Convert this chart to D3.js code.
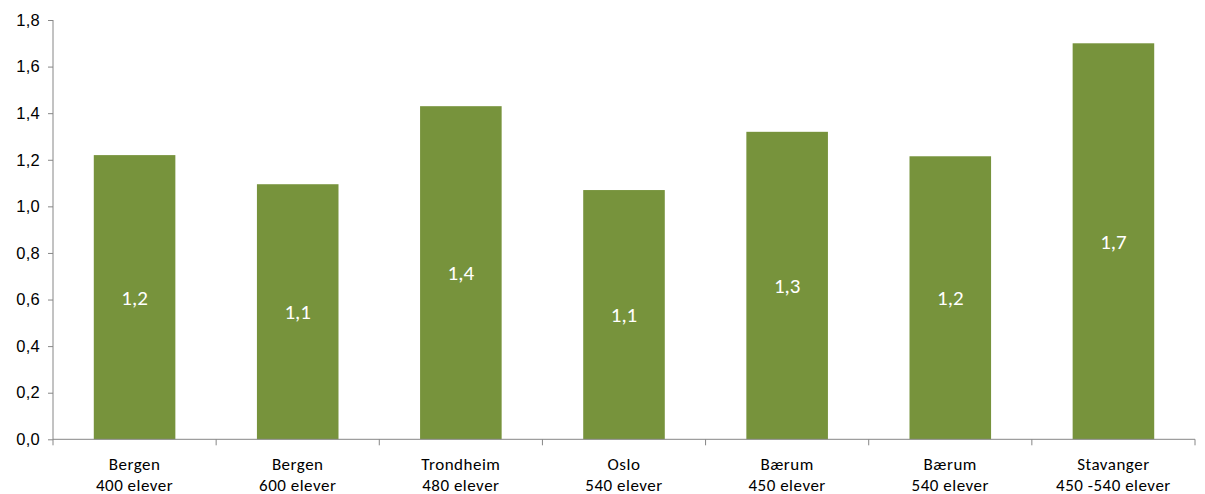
<!DOCTYPE html>
<html>
<head>
<meta charset="utf-8">
<script src="https://cdn.jsdelivr.net/npm/d3@7"></script>
<style>
  html, body { margin: 0; padding: 0; background: #fff; }
  svg { display: block; font-family: Carlito, Calibri, Lato, "Open Sans", sans-serif; }
</style>
</head>
<body>
<svg id="chart" width="1205" height="494"></svg>
<script>
const categories = [
  ["Bergen", "400 elever"],
  ["Bergen", "600 elever"],
  ["Trondheim", "480 elever"],
  ["Oslo", "540 elever"],
  ["Bærum", "450 elever"],
  ["Bærum", "540 elever"],
  ["Stavanger", "450 -540 elever"]
];
const values = [1.22, 1.095, 1.43, 1.07, 1.32, 1.215, 1.70];
const valueLabels = ["1,2", "1,1", "1,4", "1,1", "1,3", "1,2", "1,7"];
const yTicks = [0, 0.2, 0.4, 0.6, 0.8, 1.0, 1.2, 1.4, 1.6, 1.8];

(function () {
const svg = d3.select("#chart");
const mLeft = 53, mRight = 1195, mTop = 20, mBottom = 439.3;

const x = d3.scaleBand()
  .domain(d3.range(categories.length))
  .range([mLeft, mRight])
  .paddingInner(0.5)
  .paddingOuter(0.25);

const y = d3.scaleLinear().domain([0, 1.8]).range([mBottom, mTop]);

const axisColor = "#868686";
const fmt = d => d.toFixed(1).replace(".", ",");

// Y axis
const yAxis = svg.append("g")
  .attr("transform", `translate(${mLeft},0)`)
  .call(d3.axisLeft(y).tickValues(yTicks).tickFormat(fmt).tickSize(5).tickPadding(8));
yAxis.select(".domain").attr("stroke", axisColor).attr("d", `M0,${mBottom}V${mTop}`);
yAxis.selectAll(".tick line").attr("stroke", axisColor);
yAxis.selectAll(".tick text").attr("fill", "#000").style("font-size", "16.5px").style("letter-spacing", "0.3px");

// Bars
svg.append("g").selectAll("rect")
  .data(values)
  .join("rect")
  .attr("x", (d, i) => x(i))
  .attr("width", x.bandwidth())
  .attr("y", d => y(d))
  .attr("height", d => mBottom - y(d))
  .attr("fill", "#77933C");

// Value labels
svg.append("g").selectAll("text")
  .data(values)
  .join("text")
  .attr("x", (d, i) => x(i) + x.bandwidth() / 2)
  .attr("y", d => (y(d) + mBottom) / 2)
  .attr("dy", "0.36em")
  .attr("text-anchor", "middle")
  .attr("fill", "#fff")
  .style("font-size", "21px")
  .text((d, i) => valueLabels[i]);

// X axis line and boundary ticks
const boundaries = d3.range(categories.length + 1).map(i => mLeft + i * (mRight - mLeft) / categories.length);
const xg = svg.append("g");
xg.append("line")
  .attr("x1", mLeft).attr("x2", mRight)
  .attr("y1", mBottom).attr("y2", mBottom)
  .attr("stroke", axisColor);
xg.selectAll("line.tick")
  .data(boundaries)
  .join("line")
  .attr("class", "tick")
  .attr("x1", d => d).attr("x2", d => d)
  .attr("y1", mBottom).attr("y2", mBottom + 6)
  .attr("stroke", axisColor);

// Category labels
const lab = svg.append("g").selectAll("text")
  .data(categories)
  .join("text")
  .attr("text-anchor", "middle")
  .attr("fill", "#000")
  .style("font-size", "17px")
  .style("letter-spacing", "0.5px");
lab.each(function(d, i) {
  const t = d3.select(this);
  const cx = x(i) + x.bandwidth() / 2;
  t.append("tspan").attr("x", cx).attr("y", 469.5).text(d[0]);
  t.append("tspan").attr("x", cx).attr("y", 490.5).text(d[1]);
});
})();
</script>
</body>
</html>
